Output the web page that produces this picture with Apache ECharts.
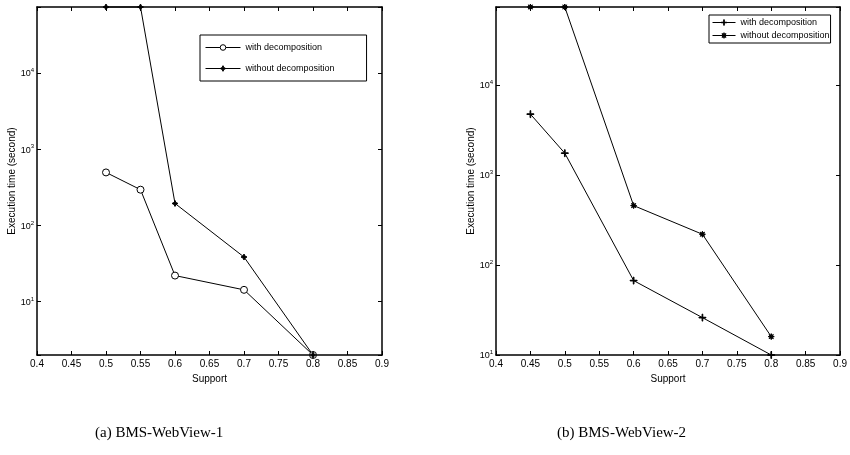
<!DOCTYPE html>
<html>
<head>
<meta charset="utf-8">
<script src="https://cdn.jsdelivr.net/npm/echarts@6/dist/echarts.min.js"></script>
<style>
  html, body { margin: 0; padding: 0; background: #fff; }
  #chart { width: 850px; height: 455px; }
</style>
</head>
<body>
<div id="chart"></div>
<script>
// support values on the x axis
var supportA = [0.5, 0.55, 0.6, 0.7, 0.8];
var supportB = [0.45, 0.5, 0.6, 0.7, 0.8];

// execution time (seconds)
var withDecompA = [495, 294, 22, 14.3, 2];
var withoutDecompA = [73000, 73000, 194, 38.5, 2];
var withDecompB = [4720, 1740, 67, 26, 10];
var withoutDecompB = [73000, 73000, 456, 219, 16];

var captions = ['(a) BMS-WebView-1', '(b) BMS-WebView-2'];

function pairs(xs, ys) {
  var out = [];
  for (var i = 0; i < xs.length; i++) out.push([xs[i], ys[i]]);
  return out;
}

var narrow = "'Liberation Sans Narrow', 'Liberation Sans', Arial, sans-serif";
var sans = "'Liberation Sans', Arial, sans-serif";

var starPath = 'path://M0,-5 L1.6,-1.6 L5,0 L1.6,1.6 L0,5 L-1.6,1.6 L-5,0 L-1.6,-1.6Z';
var plusPath = 'path://M-0.5,-5 L0.5,-5 L0.5,-0.5 L5,-0.5 L5,0.5 L0.5,0.5 L0.5,5 L-0.5,5 L-0.5,0.5 L-5,0.5 L-5,-0.5 L-0.5,-0.5Z';
var asteriskPath = 'path://M0,-5 L1,-2 L3.5,-3.5 L2,-1 L5,0 L2,1 L3.5,3.5 L1,2 L0,5 L-1,2 L-3.5,3.5 L-2,1 L-5,0 L-2,-1 L-3.5,-3.5 L-1,-2Z';

function xAxes(grid) {
  var line = { lineStyle: { color: '#000', width: 1.5 } };
  return [
    {
      gridIndex: grid, type: 'value', min: 0.4, max: 0.9, interval: 0.05, position: 'bottom',
      name: 'Support', nameLocation: 'middle', nameGap: 14,
      nameTextStyle: { color: '#000', fontSize: 10, fontFamily: sans },
      axisLine: line,
      axisTick: { inside: true, length: 4, lineStyle: { color: '#000' } },
      axisLabel: { color: '#000', fontSize: 10, fontFamily: narrow, margin: 4 },
      splitLine: { show: false }
    },
    {
      gridIndex: grid, type: 'value', min: 0.4, max: 0.9, interval: 0.05, position: 'top',
      axisLine: line,
      axisTick: { inside: true, length: 4, lineStyle: { color: '#000' } },
      axisLabel: { show: false },
      splitLine: { show: false }
    }
  ];
}

function powLabel(value) {
  var e = Math.log10(value);
  if (Math.abs(e - Math.round(e)) > 1e-6) return '';
  return '{b|10}{s|' + Math.round(e) + '}';
}

function yAxes(grid, min, max) {
  var line = { lineStyle: { color: '#000', width: 1.5 } };
  return [
    {
      gridIndex: grid, type: 'log', logBase: 10, min: min, max: max, position: 'left',
      name: 'Execution time (second)', nameLocation: 'middle', nameGap: 19,
      nameTextStyle: { color: '#000', fontSize: 10, fontFamily: sans },
      axisLine: line,
      axisTick: { inside: true, length: 4, lineStyle: { color: '#000' } },
      axisLabel: {
        formatter: powLabel, margin: 3,
        rich: {
          b: { fontSize: 9, fontFamily: narrow, color: '#000', lineHeight: 11, verticalAlign: 'bottom' },
          s: { fontSize: 6, fontFamily: narrow, color: '#000', lineHeight: 11, verticalAlign: 'top' }
        }
      },
      splitLine: { show: false }
    },
    {
      gridIndex: grid, type: 'log', logBase: 10, min: min, max: max, position: 'right',
      axisLine: line,
      axisTick: { inside: true, length: 4, lineStyle: { color: '#000' } },
      axisLabel: { show: false },
      splitLine: { show: false }
    }
  ];
}

function lineSeries(name, x, y, grid, symbol, size, fill) {
  return {
    name: name, type: 'line',
    xAxisIndex: grid * 2, yAxisIndex: grid * 2,
    data: pairs(x, y),
    symbol: symbol, symbolSize: size, showSymbol: true,
    clip: false,
    lineStyle: { color: '#000', width: 1 },
    itemStyle: { color: fill || '#000', borderColor: '#000', borderWidth: 1 },
    animation: false
  };
}

var legendBase = {
  formatter: function (n) { return n.replace(/ \(.\)$/, ''); },
  orient: 'vertical',
  borderColor: '#000', borderWidth: 1, backgroundColor: '#fff',
  selectedMode: false,
  lineStyle: { width: 1, color: '#000' },
  itemStyle: { borderWidth: 1 },
  textStyle: { color: '#000', fontSize: 9, fontFamily: sans }
};

var chart = echarts.init(document.getElementById('chart'));
chart.setOption({
  backgroundColor: '#fff',
  animation: false,
  grid: [
    { left: 37, right: 468, top: 7, bottom: 100 },
    { left: 496, right: 9, top: 7, bottom: 100 }
  ],
  xAxis: xAxes(0).concat(xAxes(1)),
  yAxis: yAxes(0, 2, 73000).concat(yAxes(1, 10, 73000)),
  legend: [
    Object.assign({}, legendBase, {
      data: ['with decomposition (a)', 'without decomposition (a)'],
      left: 200, top: 35,
      padding: [8, 32, 8, 5], itemGap: 12, itemWidth: 35, itemHeight: 7, itemTextGap: 3
    }),
    Object.assign({}, legendBase, {
      data: ['with decomposition (b)', 'without decomposition (b)'],
      left: 709, top: 15,
      padding: [3, 1, 3, 3], itemGap: 4, itemWidth: 23, itemHeight: 7, itemTextGap: 2
    })
  ],
  series: [
    lineSeries('with decomposition (a)', supportA, withDecompA, 0, 'circle', 7, '#fff'),
    lineSeries('without decomposition (a)', supportA, withoutDecompA, 0, starPath, 6),
    lineSeries('with decomposition (b)', supportB, withDecompB, 1, plusPath, 7),
    lineSeries('without decomposition (b)', supportB, withoutDecompB, 1, asteriskPath, 6)
  ],
  graphic: [
    {
      type: 'text', left: 95, top: 426,
      style: { text: captions[0], fontSize: 15, fontFamily: "'Liberation Serif', 'DejaVu Serif', serif", fill: '#000' }
    },
    {
      type: 'text', left: 557, top: 426,
      style: { text: captions[1], fontSize: 15, fontFamily: "'Liberation Serif', 'DejaVu Serif', serif", fill: '#000' }
    }
  ]
});
</script>
</body>
</html>
